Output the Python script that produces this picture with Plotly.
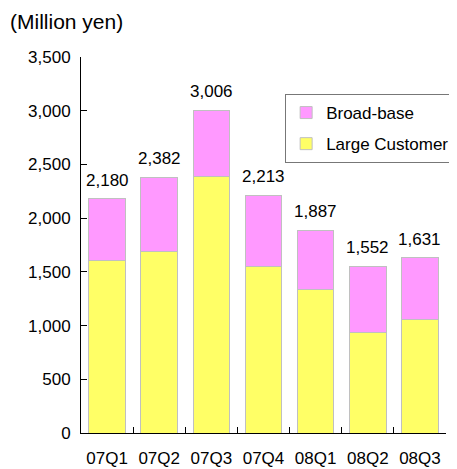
import plotly.graph_objects as go

quarters = ["07Q1", "07Q2", "07Q3", "07Q4", "08Q1", "08Q2", "08Q3"]
large_customer = [1610, 1691, 2389, 1551, 1334, 931, 1055]
totals = [2180, 2382, 3006, 2213, 1887, 1552, 1631]
broad_base = [t - l for t, l in zip(totals, large_customer)]
total_labels = ["2,180", "2,382", "3,006", "2,213", "1,887", "1,552", "1,631"]
y_ticks = [0, 500, 1000, 1500, 2000, 2500, 3000, 3500]
y_tick_labels = ["0", "500", "1,000", "1,500", "2,000", "2,500", "3,000", "3,500"]

FONT = "Liberation Sans, Arial, sans-serif"

fig = go.Figure()
fig.add_trace(go.Bar(x=quarters, y=large_customer, name="Large Customer",
                     legendgroup="lc", legendrank=2,
                     marker=dict(color="#FFFF66", line=dict(color="#C0C0C0", width=1))))
fig.add_trace(go.Bar(x=quarters, y=broad_base, name="Broad-base",
                     legendgroup="bb", legendrank=1,
                     marker=dict(color="#FF99FF", line=dict(color="#C0C0C0", width=1))))

for q, t, lab in zip(quarters, totals, total_labels):
    fig.add_annotation(x=q, y=t, text=lab, showarrow=False, yanchor="bottom",
                       yshift=7, font=dict(family=FONT, size=17, color="#000"))

fig.add_annotation(xref="paper", yref="paper", x=-0.2, y=1.0957, xanchor="left",
                   yanchor="middle", text="(Million yen)", showarrow=False,
                   font=dict(family=FONT, size=21, color="#000"))

fig.update_layout(
    width=449, height=461,
    margin=dict(l=73, r=11, t=49, b=36, autoexpand=False),
    barmode="stack", bargap=0.3,
    plot_bgcolor="white", paper_bgcolor="white",
    font=dict(family=FONT, size=17, color="#000"),
    showlegend=True,
    legend=dict(x=1.025, y=0.9016, xanchor="right", yanchor="top",
                bordercolor="#777777", borderwidth=1, bgcolor="white",
                traceorder="grouped", font=dict(family=FONT, size=17),
                itemwidth=30, tracegroupgap=6),
    xaxis=dict(showline=True, linecolor="#000", linewidth=1, ticks="inside",
               tickson="boundaries", ticklen=6, tickcolor="#000", tickangle=0,
               ticklabelstandoff=10, showgrid=False, automargin=False),
    yaxis=dict(range=[0, 3500], showline=True, linecolor="#000", linewidth=1,
               ticks="inside", ticklen=6, tickcolor="#000", tickvals=y_ticks,
               ticktext=y_tick_labels, showgrid=False, zeroline=False,
               ticklabelstandoff=6, automargin=False),
)

fig.write_html("out.html")
